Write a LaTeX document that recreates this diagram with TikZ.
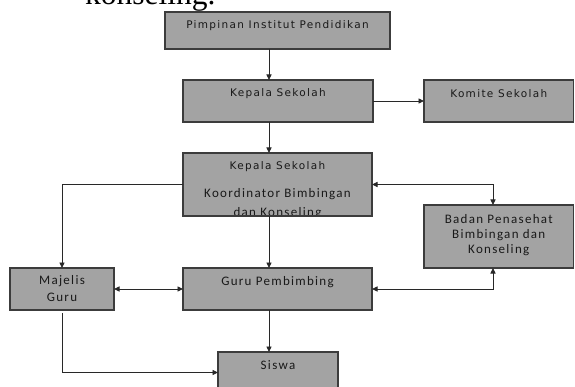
\documentclass[tikz,border=0pt]{standalone}
\usepackage{fontspec}
\setmainfont{Liberation Serif}
\newfontfamily\dvfont[LetterSpace=12.5]{DejaVu Sans}
\newfontfamily\clfont[LetterSpace=10]{Carlito}
\usetikzlibrary{arrows.meta,calc}
\definecolor{boxfill}{RGB}{163,163,163}
\definecolor{boxline}{RGB}{60,60,60}
\definecolor{conn}{RGB}{40,40,40}
\definecolor{txt}{RGB}{25,25,25}
\newcommand{\dvf}{\dvfont\fontsize{10.5}{12}\selectfont}
\newcommand{\clf}{\clfont\fontsize{13}{15.3}\selectfont}
\newcommand{\ctrline}[2]{\hbox to #1{\hss\smash{#2}\hss}}
\tikzset{
  orgbox/.style={draw=boxline, fill=boxfill, line width=1.1pt, inner sep=0pt,
    outer sep=0pt, anchor=north west, text=txt},
  link/.style={draw=conn, line width=0.9pt, -{Triangle[length=5.5pt,width=5pt]}},
  link2/.style={draw=conn, line width=0.9pt,
    {Triangle[length=5.5pt,width=5pt]}-{Triangle[length=5.5pt,width=5pt]}},
}
\begin{document}
\begin{tikzpicture}[x=1pt,y=1pt]
\useasboundingbox (0,0) rectangle (575,-387);
\fill[white] (0,0) rectangle (575,-387);
\clip (0,0) rectangle (575,-387);

\node[anchor=base west, inner sep=0pt, font=\fontsize{31.5}{36}\selectfont] (head) at (85,-4.5) {konseling.};

\node[orgbox, text height=16.3pt, text depth=20.7pt] (pim) at (165,-12)
  {\vtop{\offinterlineskip\ctrline{225pt}{\dvf Pimpinan Institut Pendidikan}}};
\node[orgbox, text height=17pt, text depth=25pt] (kep) at (183,-80)
  {\vtop{\offinterlineskip\ctrline{190pt}{\dvf Kepala Sekolah}}};
\node[orgbox, text height=17.3pt, text depth=24.7pt] (kom) at (424,-80)
  {\vtop{\offinterlineskip\ctrline{149.5pt}{\dvf Komite Sekolah}}};
\node[orgbox, text height=17pt, text depth=46pt,
  path picture={\node[inner sep=0pt, anchor=base, text=txt] (koordl3)
    at ($(path picture bounding box.north)+(0,-64)$) {\clf dan Konseling};}]
  (koord) at (183,-153)
  {\vtop{\offinterlineskip\ctrline{189pt}{\dvf Kepala Sekolah}\kern27.3pt
    \ctrline{189pt}{\clf Koordinator Bimbingan}}};
\node[orgbox, text height=18.3pt, text depth=44.7pt] (badan) at (424,-205)
  {\vtop{\offinterlineskip\ctrline{149.5pt}{\clf Badan Penasehat}\kern15.3pt
    \ctrline{149.5pt}{\clf Bimbingan dan}\kern15.3pt
    \ctrline{149.5pt}{\clf Konseling}}};
\node[orgbox, text height=16.3pt, text depth=25.7pt] (maj) at (10,-268)
  {\vtop{\offinterlineskip\ctrline{104pt}{\clf Majelis}\kern16.7pt
    \ctrline{104pt}{\clf Guru}}};
\node[orgbox, text height=17.7pt, text depth=24.3pt] (guru) at (183,-268)
  {\vtop{\offinterlineskip\ctrline{189pt}{\clf Guru Pembimbing}}};
\node[orgbox, text height=17.3pt, text depth=32.7pt] (siswa) at (218,-352)
  {\vtop{\offinterlineskip\ctrline{120pt}{\clf Siswa}}};

\coordinate (sx) at (269,0);
\coordinate (bx) at (493,0);
\coordinate (sy) at (0,-372.5);

\draw[link] (pim.south -| sx) -- (kep.north -| sx);
\draw[link] (kep) -- (kom);
\draw[link] (kep.south -| sx) -- (koord.north -| sx);
\draw[link] (koord.west) -| (maj.north);
\draw[link2] (koord.east) -| (badan.north -| bx);
\draw[link] (koord.south -| sx) -- (guru.north -| sx);
\draw[link2] (maj) -- (guru);
\draw[link2] (guru.east) -| (badan.south -| bx);
\draw[link] (guru.south -| sx) -- (siswa.north -| sx);
\draw[link] ([yshift=-3pt]maj.south) |- (siswa.west |- sy);
\end{tikzpicture}
\end{document}
